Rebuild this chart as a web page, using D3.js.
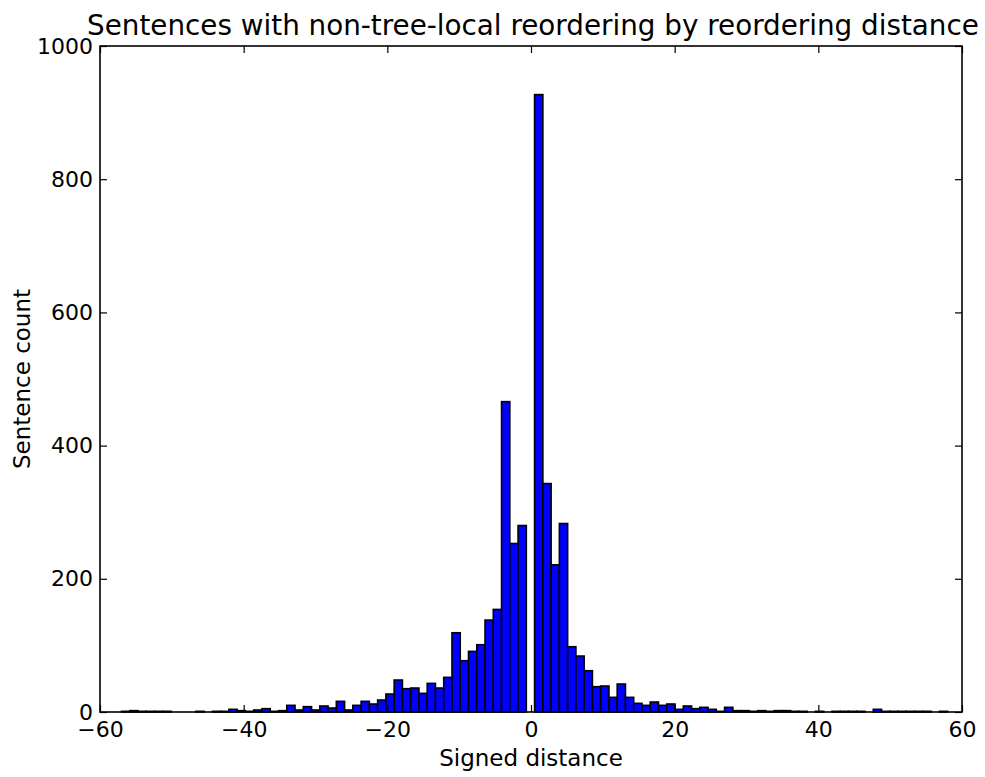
<!DOCTYPE html>
<html>
<head>
<meta charset="utf-8">
<script src="https://cdn.jsdelivr.net/npm/d3@7"></script>
<style>
  body { margin: 0; background: #fff; }
  svg { display: block; }
  text { font-family: "DejaVu Sans", sans-serif; fill: #000; }
</style>
</head>
<body>
<div id="chart"></div>
<script>
// Histogram of signed reordering distances: 100 equal bins over [-57, 58]
const binLow = -57;
const binHigh = 58;
const counts = [
  1, 2, 1, 1, 1, 1, 0, 0, 0, 1,
  0, 1, 1, 4, 2, 1, 3, 5, 1, 2,
  10, 3, 8, 3, 9, 6, 16, 3, 10, 16,
  12, 18, 27, 48, 35, 36, 28, 43, 36, 52,
  119, 77, 91, 101, 138, 154, 466, 253, 280, 0,
  927, 343, 221, 283, 98, 84, 62, 38, 39, 22,
  42, 22, 13, 10, 15, 10, 12, 4, 9, 5,
  7, 4, 1, 7, 2, 2, 1, 2, 1, 2,
  2, 1, 1, 0, 1, 0, 1, 1, 1, 1,
  0, 4, 1, 1, 1, 1, 1, 1, 0, 1
];
const xTicks = [-60, -40, -20, 0, 20, 40, 60];
const yTicks = [0, 200, 400, 600, 800, 1000];
const xDomain = [-60, 60];
const yDomain = [0, 1000];
const titleText = "Sentences with non-tree-local reordering by reordering distance";
const xLabelText = "Signed distance";
const yLabelText = "Sentence count";

const W = 985, H = 777;
const plot = { left: 100, right: 962, top: 46, bottom: 712 };

const svg = d3.select("#chart").append("svg")
  .attr("width", W).attr("height", H);

const x = d3.scaleLinear().domain(xDomain).range([plot.left, plot.right]);
const y = d3.scaleLinear().domain(yDomain).range([plot.bottom, plot.top]);

const step = (binHigh - binLow) / counts.length;
const bins = counts.map((c, i) => ({
  x0: binLow + i * step,
  x1: binLow + (i + 1) * step,
  count: c
}));

// bars
svg.append("g").selectAll("rect").data(bins).join("rect")
  .attr("x", d => x(d.x0))
  .attr("width", d => x(d.x1) - x(d.x0))
  .attr("y", d => y(d.count))
  .attr("height", d => y(0) - y(d.count))
  .attr("fill", "#0000ff")
  .attr("stroke", "#000")
  .attr("stroke-width", 1.6);

const fmt = d => d < 0 ? "\u2212" + Math.abs(d) : String(d);
const tickLen = 7;
const tickFont = 22;

function styleAxis(g, showLabels) {
  g.select(".domain").remove();
  g.selectAll(".tick line").attr("stroke", "#000").attr("stroke-width", 1.2);
  g.selectAll(".tick text")
    .style("font-size", tickFont + "px")
    .style("font-family", "'DejaVu Sans', sans-serif")
    .attr("fill", "#000");
  if (!showLabels) g.selectAll(".tick text").remove();
}

svg.append("g")
  .attr("transform", `translate(0,${plot.bottom})`)
  .call(d3.axisBottom(x).tickValues(xTicks).tickSize(-tickLen).tickPadding(9).tickFormat(fmt))
  .call(g => styleAxis(g, true));

svg.append("g")
  .attr("transform", `translate(0,${plot.top})`)
  .call(d3.axisTop(x).tickValues(xTicks).tickSize(-tickLen))
  .call(g => styleAxis(g, false));

svg.append("g")
  .attr("transform", `translate(${plot.left},0)`)
  .call(d3.axisLeft(y).tickValues(yTicks).tickSize(-tickLen).tickPadding(7).tickFormat(fmt))
  .call(g => styleAxis(g, true));

svg.append("g")
  .attr("transform", `translate(${plot.right},0)`)
  .call(d3.axisRight(y).tickValues(yTicks).tickSize(-tickLen))
  .call(g => styleAxis(g, false));

// frame
svg.append("rect")
  .attr("x", plot.left).attr("y", plot.top)
  .attr("width", plot.right - plot.left)
  .attr("height", plot.bottom - plot.top)
  .attr("fill", "none")
  .attr("stroke", "#000")
  .attr("stroke-width", 1.6);

// title and axis labels
svg.append("text")
  .attr("x", (plot.left + plot.right) / 2 + 2).attr("y", 35)
  .attr("text-anchor", "middle")
  .style("font-size", "27.8px")
  .text(titleText);

svg.append("text")
  .attr("x", (plot.left + plot.right) / 2).attr("y", 766)
  .attr("text-anchor", "middle")
  .style("font-size", "23px")
  .text(xLabelText);

svg.append("text")
  .attr("transform", `translate(30,${(plot.top + plot.bottom) / 2}) rotate(-90)`)
  .attr("text-anchor", "middle")
  .style("font-size", "23px")
  .text(yLabelText);
</script>
</body>
</html>
